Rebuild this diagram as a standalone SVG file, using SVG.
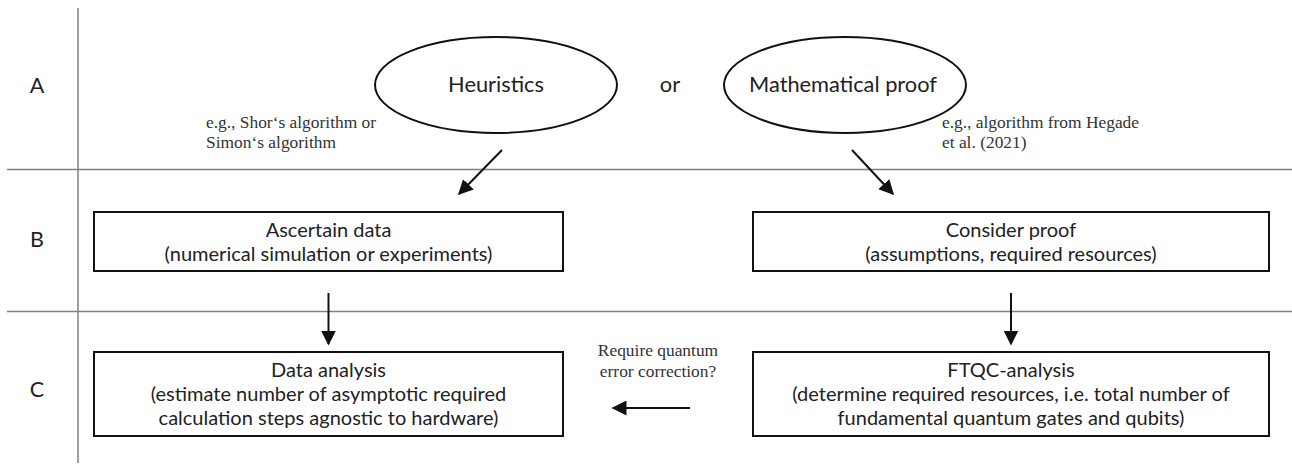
<svg xmlns="http://www.w3.org/2000/svg" width="1292" height="465" viewBox="0 0 1292 465">
<style>
.grid{stroke:#808080;stroke-width:1.5;fill:none}
.shape{fill:#fff;stroke:#111;stroke-width:2}
.t{font-family:Lato,"Open Sans","Liberation Sans",sans-serif;fill:#222;text-anchor:middle}
.b{font-size:20px}
.e{font-size:21.8px}
.n{font-family:"Liberation Serif","DejaVu Serif",serif;fill:#333;font-size:17.4px}
.c{stroke:#111;stroke-width:2;fill:none;marker-end:url(#ah)}
</style>
<defs>
<marker id="ah" viewBox="0 0 10 10" refX="9" refY="5" markerWidth="7.5" markerHeight="7.5" markerUnits="strokeWidth" orient="auto">
<path d="M0,0 L10,5 L0,10 z" fill="#111"/>
</marker>
</defs>
<g id="grid">
<line class="grid" x1="78" y1="8" x2="78" y2="463"/>
<line class="grid" x1="7" y1="169.5" x2="1292" y2="169.5"/>
<line class="grid" x1="7" y1="311.5" x2="1292" y2="311.5"/>
<text class="t" x="37" y="93" font-size="21.5">A</text>
<text class="t" x="37" y="247" font-size="21.5">B</text>
<text class="t" x="37" y="397" font-size="21.5">C</text>
</g>
<g id="heuristics">
<ellipse class="shape" cx="496" cy="85" rx="121" ry="48"/>
<text class="t e" x="496" y="92">Heuristics</text>
</g>
<g id="or">
<text class="t e" x="670" y="92">or</text>
</g>
<g id="proof">
<ellipse class="shape" cx="845" cy="85" rx="121" ry="48"/>
<text class="t e" x="843" y="92">Mathematical proof</text>
</g>
<g id="note-left">
<text class="n" x="206" y="128">e.g., Shor‘s algorithm or</text>
<text class="n" x="206" y="148">Simon‘s algorithm</text>
</g>
<g id="note-right">
<text class="n" x="942" y="128">e.g., algorithm from Hegade</text>
<text class="n" x="942" y="148">et al. (2021)</text>
</g>
<g id="ascertain">
<rect class="shape" x="94" y="212" width="469" height="59"/>
<text class="t b" x="328.5" y="236.5">Ascertain data</text>
<text class="t b" x="328.5" y="260.5">(numerical simulation or experiments)</text>
</g>
<g id="consider">
<rect class="shape" x="753" y="212" width="516" height="59"/>
<text class="t b" x="1011" y="236.5">Consider proof</text>
<text class="t b" x="1011" y="260.5">(assumptions, required resources)</text>
</g>
<g id="data-analysis">
<rect class="shape" x="94" y="352" width="469" height="84"/>
<text class="t b" x="328.5" y="376.5">Data analysis</text>
<text class="t b" x="328.5" y="400.5">(estimate number of asymptotic required</text>
<text class="t b" x="328.5" y="424.5">calculation steps agnostic to hardware)</text>
</g>
<g id="ftqc">
<rect class="shape" x="753" y="352" width="516" height="84"/>
<text class="t b" x="1011" y="376.5">FTQC-analysis</text>
<text class="t b" x="1011" y="400.5">(determine required resources, i.e. total number of</text>
<text class="t b" x="1011" y="424.5">fundamental quantum gates and qubits)</text>
</g>
<g id="qec-label">
<text class="n" x="658" y="356" text-anchor="middle">Require quantum</text>
<text class="n" x="658" y="377" text-anchor="middle">error correction?</text>
</g>
<g id="connectors">
<line class="c" x1="502" y1="150" x2="459" y2="194"/>
<line class="c" x1="852" y1="150" x2="893" y2="194"/>
<line class="c" x1="328.5" y1="293" x2="328.5" y2="344"/>
<line class="c" x1="1011" y1="293" x2="1011" y2="344"/>
<line class="c" x1="690" y1="408" x2="613" y2="408"/>
</g>
</svg>
